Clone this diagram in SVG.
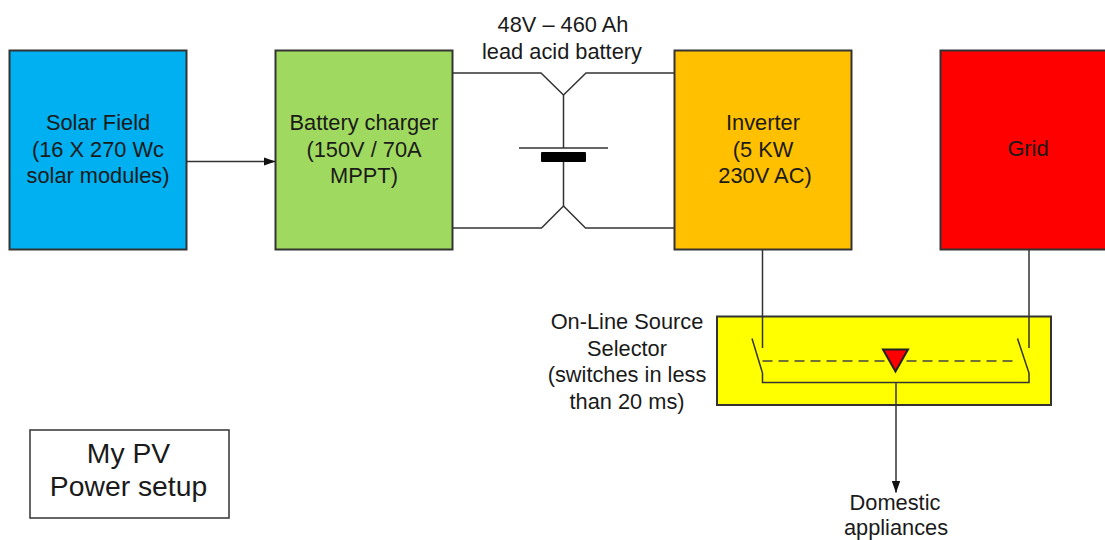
<svg xmlns="http://www.w3.org/2000/svg" width="1105" height="540" viewBox="0 0 1105 540">
<style>
text{font-family:"Liberation Sans",Arial,sans-serif;font-size:21.8px;fill:#1a1a1a;text-anchor:middle}
.box{stroke:#333;stroke-width:2}
.w{fill:none;stroke:#333;stroke-width:1.5}
.big{font-size:28.300px}
</style>
<defs><marker id="a" markerWidth="12" markerHeight="10" refX="11.500" refY="4.5" orient="auto" markerUnits="userSpaceOnUse"><path d="M0 0.300L12 4.5L0 8.700Z" fill="#111"/></marker></defs>
<rect width="1105" height="540" fill="#fff"/>
<g id="solar"><rect class="box" x="9.500" y="50.500" width="177" height="199" fill="#00b0f0"/><text x="98" y="130">Solar Field</text><text x="98" y="156.500">(16 X 270 Wc</text><text x="98" y="183">solar modules)</text></g>
<g id="charger"><rect class="box" x="275.500" y="50.500" width="177" height="199" fill="#a0d95f"/><text x="364" y="130">Battery charger</text><text x="364" y="156.500">(150V / 70A</text><text x="364" y="183">MPPT)</text></g>
<g id="inverter"><rect class="box" x="674.500" y="50.500" width="177" height="199" fill="#ffc000"/><text x="763" y="130">Inverter</text><text x="763" y="156.500">(5 KW</text><text x="765" y="183">230V AC)</text></g>
<g id="grid"><rect class="box" x="940.500" y="50.500" width="177" height="199" fill="#ff0000"/><text x="1028" y="156">Grid</text></g>
<g id="selector"><rect class="box" x="717" y="316.500" width="334" height="88.500" fill="#ffff00"/>
<path class="w" d="M752 338.500L762.500 373V382.500H1029V373L1017.500 338.500"/>
<path d="M762.500 361H1018" fill="none" stroke="#444" stroke-width="1.500" stroke-dasharray="10 6"/>
<path d="M883 349.500H908L895.500 371.500Z" fill="#ff0000" stroke="#222" stroke-width="2"/></g>
<g id="title"><rect x="30" y="430" width="199" height="88" fill="#fff" stroke="#333" stroke-width="1.500"/><text class="big" x="128.500" y="462.500">My PV</text><text class="big" x="128.500" y="496">Power setup</text></g>
<g id="labels">
<text x="563" y="32">48V – 460 Ah</text><text x="562" y="59">lead acid battery</text>
<text x="627" y="329">On-Line Source</text><text x="627" y="356">Selector</text><text x="627" y="382">(switches in less</text><text x="627" y="409">than 20 ms)</text>
<text x="895" y="510">Domestic</text><text x="896" y="535.300">appliances</text></g>
<g id="connectors">
<path class="w" d="M187 161.500H275" marker-end="url(#a)"/>
<path class="w" d="M452 73H541L563.500 95L586 73H674"/>
<path class="w" d="M452 228H541.500L563.500 206L585.500 228H674"/>
<path class="w" d="M563.500 95V148M563.500 161V206M519 148H608"/>
<rect x="541" y="152" width="45" height="10" rx="1" fill="#000"/>
<path class="w" d="M762.500 250V348M1029 250V348"/>
<path class="w" d="M896 382.500V492.500" marker-end="url(#a)"/>
</g>
</svg>
